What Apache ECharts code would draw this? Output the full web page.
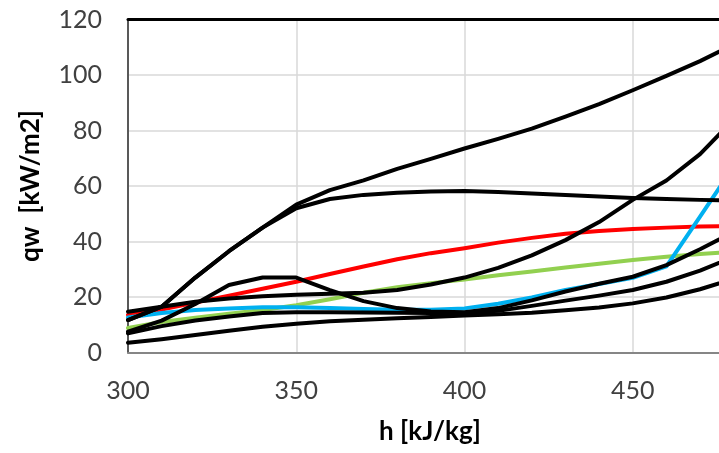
<!DOCTYPE html>
<html>
<head>
<meta charset="utf-8">
<script src="https://cdn.jsdelivr.net/npm/echarts@6/dist/echarts.min.js"></script>
<style>
  html, body { margin: 0; padding: 0; background: #ffffff; }
  #chart { width: 719px; height: 453px; }
</style>
</head>
<body>
<div id="chart"></div>
<script>
// Enthalpy h [kJ/kg] at which every curve is sampled
const enthalpy = [300, 310, 320, 330, 340, 350, 360, 370, 380, 390, 400, 410, 420, 430, 440, 450, 460, 470, 480];

// Heat flux qw [kW/m2] per curve
const qRed   = [13.5, 15.5, 18, 20.5, 23, 25.5, 28.3, 31, 33.6, 35.8, 37.6, 39.6, 41.3, 42.8, 43.8, 44.5, 45, 45.4, 45.6];
const qGreen = [8.8, 11, 12.5, 14, 15.3, 17, 19.2, 21.5, 23.5, 25, 26.3, 27.8, 29.2, 30.6, 32, 33.3, 34.5, 35.5, 36.3];
const qBlue  = [12.6, 14.2, 15.3, 15.9, 16.3, 16.3, 16, 15.7, 15.4, 15.4, 15.9, 17.6, 19.8, 22.5, 24.7, 26.9, 31, 49, 67];

const qBlackTop     = [11.7, 16.5, 27, 36.5, 45, 53.3, 58.5, 62, 66.2, 69.8, 73.5, 77, 80.7, 85, 89.5, 94.5, 99.7, 105, 111];
const qBlackPlateau = [11.7, 16.5, 27, 36.5, 45, 52, 55.3, 56.8, 57.6, 58, 58.2, 57.8, 57.3, 56.8, 56.2, 55.7, 55.3, 55, 54.8];
const qBlackSteep   = [14.7, 16.5, 18.3, 19.5, 20.3, 20.8, 21.2, 21.5, 22.5, 24.5, 27, 30.5, 35, 40.5, 47, 55, 62, 71.5, 84];
const qBlackHump    = [7.5, 11.5, 17.5, 24.3, 27, 27, 22.5, 18.5, 16, 14.8, 14.5, 16, 18.8, 22, 24.8, 27.3, 31.5, 37.2, 43.5];
const qBlackMid     = [6.9, 9.5, 11.5, 13, 14.2, 14.5, 14.5, 14.4, 14.3, 14.2, 14.2, 15, 16.8, 18.7, 20.5, 22.5, 25.5, 29.5, 34.5];
const qBlackLow     = [3.5, 4.8, 6.3, 7.8, 9.3, 10.4, 11.3, 11.8, 12.3, 12.8, 13.3, 13.8, 14.3, 15.2, 16.2, 17.7, 19.8, 22.8, 26.5];

// Axis ticks
const hTicks = { min: 300, max: 500, step: 50 };
const qTicks = { min: 0, max: 120, step: 20 };

const FONT = 'Lato, "Open Sans", sans-serif';

function pairs(ys) {
  return enthalpy.map((h, i) => [h, ys[i]]);
}

function curve(ys, color, z) {
  return {
    type: 'line',
    data: pairs(ys),
    showSymbol: false,
    smooth: false,
    z: z,
    lineStyle: { color: color, width: 4, cap: 'round', join: 'round' },
    emphasis: { disabled: true }
  };
}

const chart = echarts.init(document.getElementById('chart'), null, { renderer: 'canvas' });

chart.setOption({
  animation: false,
  backgroundColor: '#ffffff',
  // the plot runs past the right edge of the canvas (x up to 500)
  grid: { left: 128, top: 19.5, width: 673, height: 333, containLabel: false, outerBoundsMode: 'none' },
  xAxis: [
    {
      type: 'value',
      min: hTicks.min, max: hTicks.max, interval: hTicks.step,
      name: 'h [kJ/kg]',
      nameLocation: 'middle',
      nameGap: 66,
      nameTextStyle: { fontFamily: FONT, fontSize: 26, fontWeight: 'bold', color: '#000000', padding: [0, 69, 0, 0] },
      axisLine: { show: true, lineStyle: { color: '#868686', width: 2 } },
      axisTick: { show: false },
      axisLabel: { fontFamily: FONT, fontSize: 25, color: '#404040', margin: 26 },
      splitLine: { show: true, lineStyle: { color: '#D9D9D9', width: 1.5 } }
    },
    {
      type: 'value',
      position: 'top',
      min: hTicks.min, max: hTicks.max,
      axisLine: { show: true, onZero: false, lineStyle: { color: '#000000', width: 3 } },
      axisTick: { show: false },
      axisLabel: { show: false },
      splitLine: { show: false }
    }
  ],
  yAxis: {
    type: 'value',
    min: qTicks.min, max: qTicks.max, interval: qTicks.step,
    name: 'qw  [kW/m2]',
    nameLocation: 'middle',
    nameGap: 84,
    nameTextStyle: { fontFamily: FONT, fontSize: 26, fontWeight: 'bold', color: '#000000' },
    axisLine: { show: true, lineStyle: { color: '#595959', width: 2 } },
    axisTick: { show: false },
    axisLabel: { fontFamily: FONT, fontSize: 25, color: '#404040', margin: 26 },
    splitLine: { show: true, lineStyle: { color: '#D9D9D9', width: 1.5 } }
  },
  series: [
    curve(qRed, '#FF0000', 2),
    curve(qGreen, '#92D050', 2),
    curve(qBlue, '#00B0F0', 2),
    curve(qBlackTop, '#000000', 3),
    curve(qBlackPlateau, '#000000', 3),
    curve(qBlackSteep, '#000000', 3),
    curve(qBlackHump, '#000000', 3),
    curve(qBlackMid, '#000000', 3),
    curve(qBlackLow, '#000000', 3)
  ]
});
</script>
</body>
</html>
